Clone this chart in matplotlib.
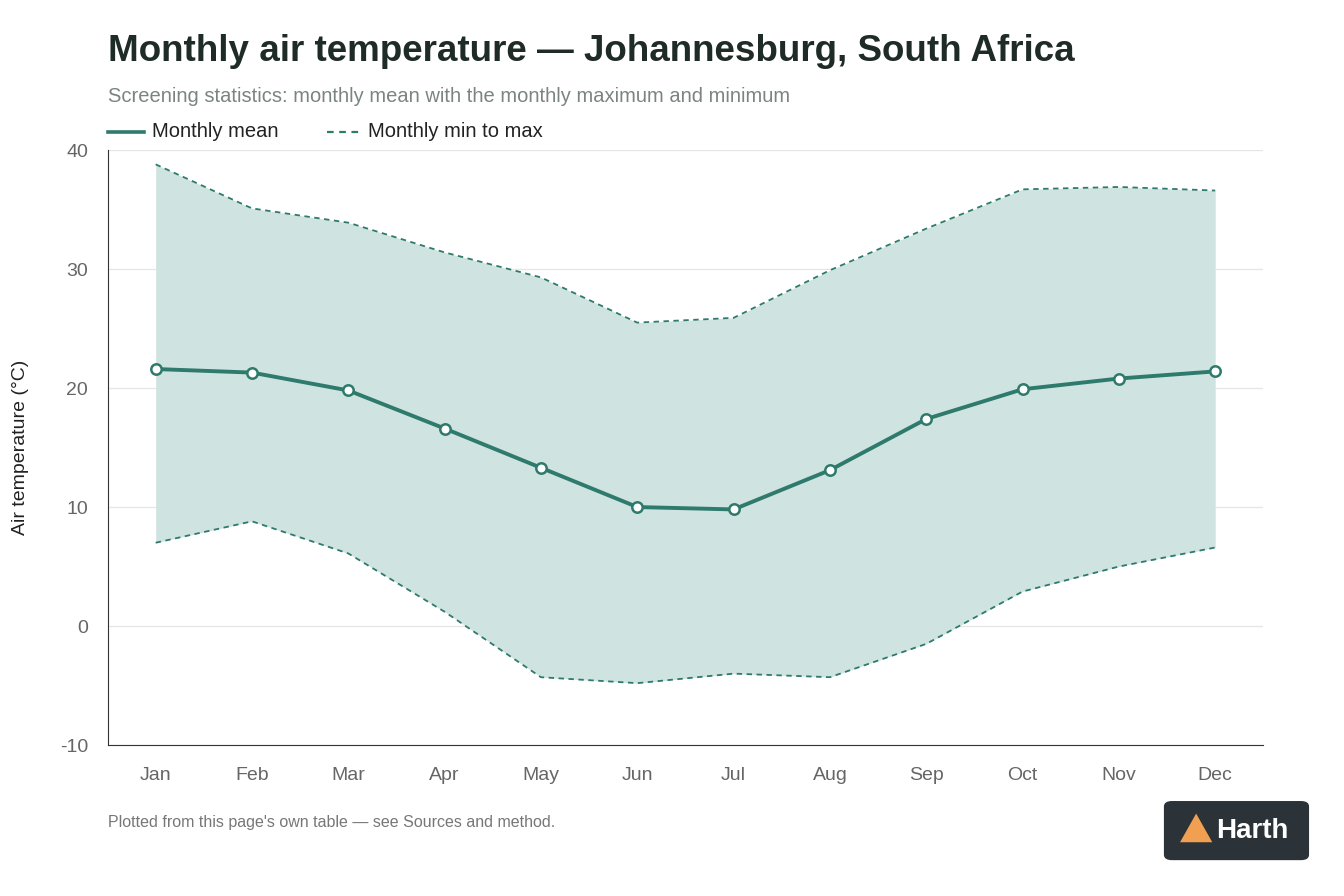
import matplotlib.pyplot as plt
from matplotlib.patches import FancyBboxPatch, Polygon

months = ['Jan', 'Feb', 'Mar', 'Apr', 'May', 'Jun', 'Jul', 'Aug', 'Sep', 'Oct', 'Nov', 'Dec']
t_mean = [21.6, 21.3, 19.8, 16.6, 13.3, 10.0, 9.8, 13.1, 17.4, 19.9, 20.8, 21.4]
t_max = [38.8, 35.1, 33.9, 31.4, 29.3, 25.5, 25.9, 29.9, 33.4, 36.7, 36.9, 36.6]
t_min = [7.0, 8.8, 6.1, 1.2, -4.3, -4.8, -4.0, -4.3, -1.5, 2.9, 5.0, 6.6]

plt.rcParams['font.family'] = ['Liberation Sans', 'DejaVu Sans']
plt.rcParams['axes.unicode_minus'] = False
green = '#2e7a6c'

fig = plt.figure(figsize=(13.44, 8.96), dpi=100)
ax = fig.add_axes([0.080, 0.1685, 0.860, 0.664])
x = range(len(months))
ax.fill_between(x, t_min, t_max, color='#cfe4e0', lw=0)
ax.plot(x, t_max, ls=(0, (3, 2.5)), color=green, lw=1.3)
ax.plot(x, t_min, ls=(0, (3, 2.5)), color=green, lw=1.3)
ax.plot(x, t_mean, color=green, lw=2.8, marker='o', ms=7.5,
        mfc='white', mec=green, mew=1.8, zorder=5)

ax.set_xlim(-0.5, 11.5)
ax.set_ylim(-10, 40)
ax.set_yticks([-10, 0, 10, 20, 30, 40])
ax.set_xticks(list(x))
ax.set_xticklabels(months)
ax.grid(axis='y', color='#e6e6e6', lw=0.9)
ax.set_axisbelow(True)
for s in ['top', 'right']:
    ax.spines[s].set_visible(False)
for s in ['left', 'bottom']:
    ax.spines[s].set_color('#333333')
ax.tick_params(length=0, labelsize=14, colors='#666666', pad=16)
ax.tick_params(axis='y', pad=14)
ax.set_ylabel('Air temperature (°C)', fontsize=14, color='#222222', labelpad=22)

fig.text(0.080, 0.942, 'Monthly air temperature — Johannesburg, South Africa',
         fontsize=26.5, fontweight='bold', color='#1e2b27', va='center')
fig.text(0.080, 0.892, 'Screening statistics: monthly mean with the monthly maximum and minimum',
         fontsize=14.5, color='#7a8480', va='center')
fig.lines.append(plt.Line2D([0.080, 0.107], [0.853, 0.853], color=green, lw=2.6,
                            transform=fig.transFigure))
fig.text(0.113, 0.853, 'Monthly mean', fontsize=14.5, color='#222222', va='center')
fig.lines.append(plt.Line2D([0.243, 0.270], [0.853, 0.853], color=green, lw=1.6,
                            ls=(0, (3, 2.5)), transform=fig.transFigure))
fig.text(0.274, 0.853, 'Monthly min to max', fontsize=14.5, color='#222222', va='center')
fig.text(0.080, 0.082, "Plotted from this page's own table — see Sources and method.",
         fontsize=11.5, color='#777777', va='center')

# badge
fig.patches.append(FancyBboxPatch((0.866, 0.040), 0.108, 0.066,
                                  boxstyle='round,pad=0,rounding_size=0.006',
                                  transform=fig.transFigure, fc='#2b3338', ec='none'))
fig.patches.append(Polygon([[0.878, 0.060], [0.890, 0.092], [0.902, 0.060]],
                           closed=True, transform=fig.transFigure, fc='#f0a050', ec='none'))
fig.text(0.905, 0.073, 'Harth', fontsize=20, fontweight='bold', color='white', va='center')

fig.savefig('out.png', dpi=100, facecolor='white')
